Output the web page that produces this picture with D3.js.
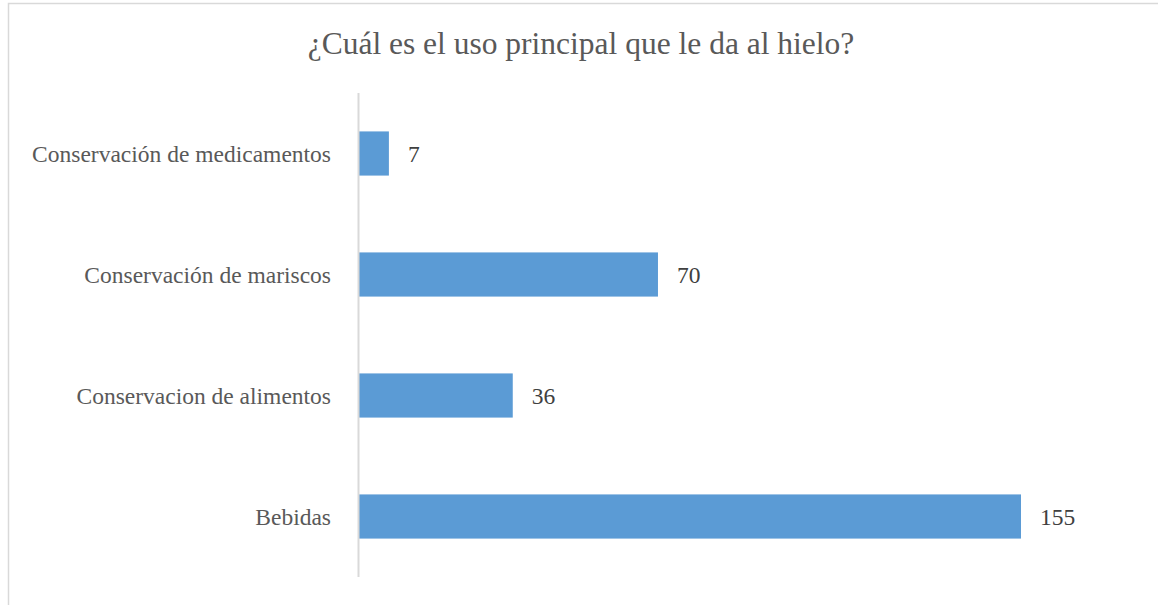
<!DOCTYPE html>
<html>
<head>
<meta charset="utf-8">
<script src="https://cdn.jsdelivr.net/npm/d3@7"></script>
<style>
  html, body { margin: 0; padding: 0; background: #fff; }
  svg { display: block; }
</style>
</head>
<body>
<svg id="chart" width="1158" height="605"></svg>
<script>
// Survey answers: main use given to ice
const categories = [
  "Conservación de medicamentos",
  "Conservación de mariscos",
  "Conservacion de alimentos",
  "Bebidas"
];
const counts = [7, 70, 36, 155];
const title = "¿Cuál es el uso principal que le da al hielo?";

const W = 1158, H = 605;
const svg = d3.select("#chart");
const serif = "'Liberation Serif', 'Times New Roman', serif";

// chart frame
svg.append("rect")
  .attr("x", 8.5).attr("y", 3.5)
  .attr("width", W + 10).attr("height", H + 10)
  .attr("fill", "#fff")
  .attr("stroke", "#d9d9d9").attr("stroke-width", 1.5);

const plot = { left: 358, top: 93, bottom: 577 };

const x = d3.scaleLinear().domain([0, 155]).range([plot.left + 1, 1021]);
const y = d3.scaleBand().domain(categories).range([plot.top, plot.bottom]).paddingInner(0.635).paddingOuter(0.3175);

svg.append("text")
  .attr("x", 581).attr("y", 54)
  .attr("text-anchor", "middle")
  .attr("font-family", serif).attr("font-size", 31.5)
  .attr("fill", "#595959")
  .text(title);

// bars
const data = categories.map((c, i) => ({ c, v: counts[i] }));
svg.append("g").selectAll("rect").data(data).join("rect")
  .attr("x", x(0))
  .attr("y", d => y(d.c))
  .attr("width", d => x(d.v) - x(0))
  .attr("height", y.bandwidth())
  .attr("fill", "#5b9bd5");

// value labels
svg.append("g").selectAll("text").data(data).join("text")
  .attr("x", d => x(d.v) + 19)
  .attr("y", d => y(d.c) + y.bandwidth() / 2)
  .attr("dy", "0.38em")
  .attr("font-family", serif).attr("font-size", 23.5)
  .attr("fill", "#404040")
  .text(d => d.v);

// category axis
const yAxis = svg.append("g")
  .attr("transform", `translate(${plot.left},0)`)
  .call(d3.axisLeft(y).tickSize(0).tickPadding(27));
yAxis.select(".domain")
  .attr("d", `M0.5,${plot.top}V${plot.bottom}`)
  .attr("stroke", "#d9d9d9").attr("stroke-width", 2);
yAxis.selectAll("text")
  .attr("font-family", serif).attr("font-size", 23.5)
  .attr("fill", "#595959")
  .attr("dy", "0.38em");
</script>
</body>
</html>
